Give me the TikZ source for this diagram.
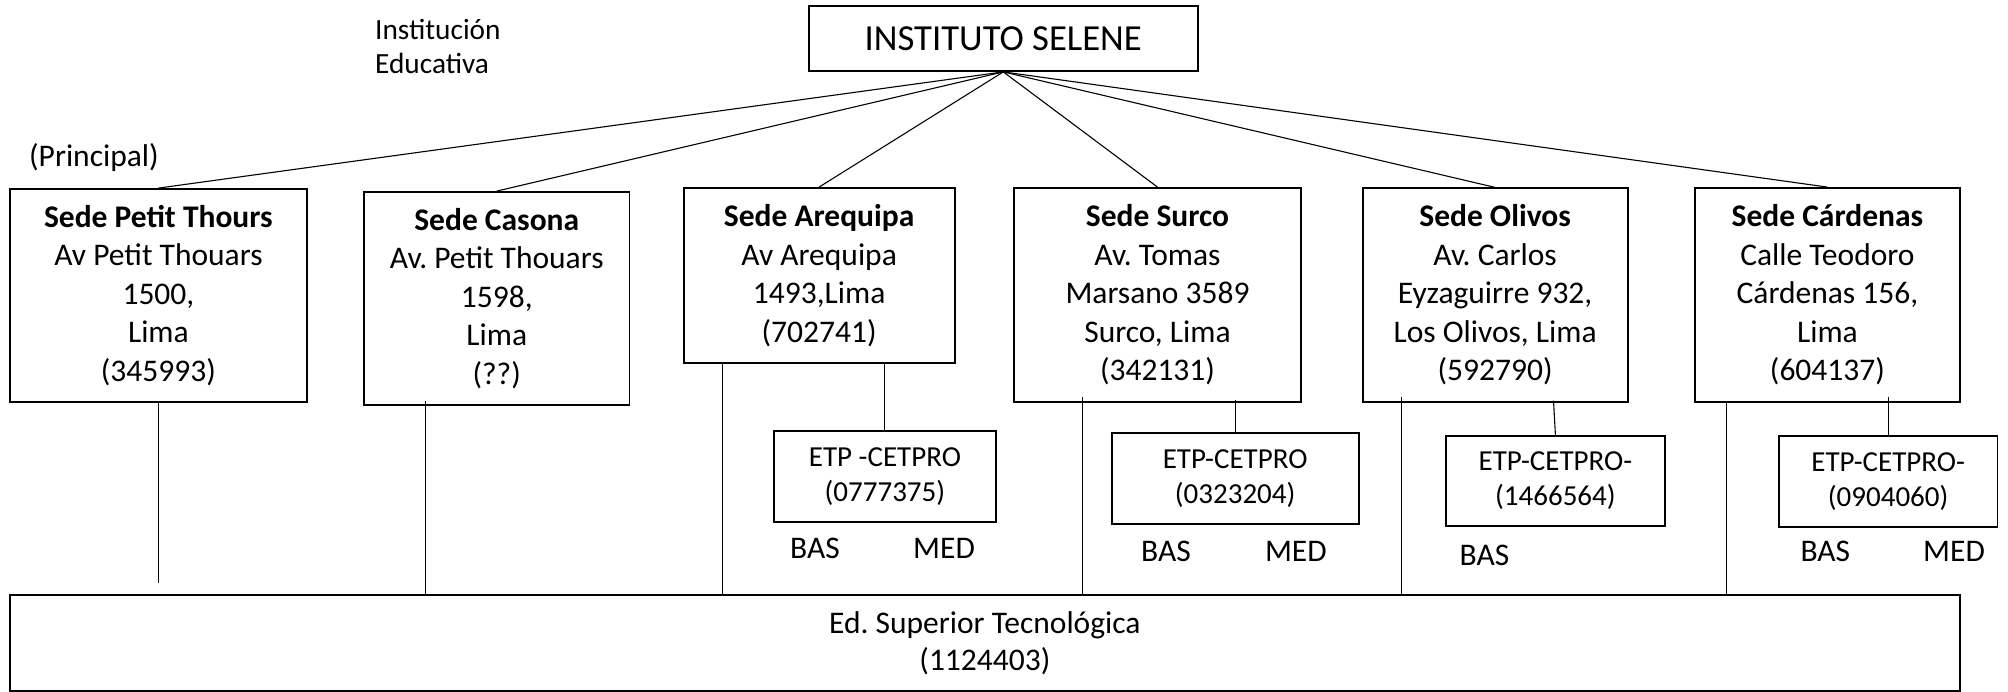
\documentclass[tikz,border=0pt]{standalone}
\usepackage{fontspec}
\setmainfont{Carlito}
\frenchspacing
\newcommand{\fmainsz}{\fontsize{31.5bp}{38.5bp}\selectfont}
\newcommand{\fetpsz}{\fontsize{29bp}{35bp}\selectfont}
\newcommand{\flabsz}{\fontsize{29.3bp}{34bp}\selectfont}
\newcommand{\ftopsz}{\fontsize{36.7bp}{40bp}\selectfont}
\newcommand{\fbotsz}{\fontsize{31.5bp}{37bp}\selectfont}
\begin{document}
\begin{tikzpicture}[x=1bp,y=-1bp,
  box/.style={draw=black, line width=1.8bp, inner sep=0pt, align=center},
  sedebox/.style={box, font=\fmainsz},
  etpbox/.style={box, font=\fetpsz},
  conn/.style={draw=black, line width=1.1bp},
  lab/.style={inner sep=0pt, anchor=base west, font=\fmainsz},
  toplab/.style={inner sep=0pt, anchor=base west, font=\flabsz}]
\useasboundingbox (0,0) rectangle (2008,692);
\fill[white] (0,0) rectangle (2008,692);

% top
\node[box, font=\ftopsz, minimum width=389.3bp, minimum height=65bp] (inst) at (1003.3,38.5) {INSTITUTO SELENE};
\node[toplab] (ie1) at (375,39.3) {Institución};
\node[toplab] (ie2) at (375,73.3) {Educativa};
\node[lab] (princ) at (29,166.7) {(Principal)};

% sedes
\node[sedebox, minimum width=297.2bp, minimum height=213bp] (b1) at (158.4,295.5)
  {\textbf{Sede Petit Thours}\\Av Petit Thouars\\1500,\\Lima\\(345993)};
\node[sedebox, minimum width=265.5bp, minimum height=213bp] (b2) at (496.75,298.5)
  {\textbf{Sede Casona}\\Av. Petit Thouars\\1598,\\Lima\\(??)};
\node[sedebox, minimum width=271bp, minimum height=175bp] (b3) at (819.1,275.5)
  {\textbf{Sede Arequipa}\\Av Arequipa\\1493,Lima\\(702741)};
\node[sedebox, minimum width=287bp, minimum height=214bp] (b4) at (1157.5,295)
  {\textbf{Sede Surco}\\Av. Tomas\\Marsano 3589\\Surco, Lima\\(342131)};
\node[sedebox, minimum width=265bp, minimum height=213.4bp] (b5) at (1495.1,295)
  {\textbf{Sede Olivos}\\Av. Carlos\\Eyzaguirre 932,\\Los Olivos, Lima\\(592790)};
\node[sedebox, minimum width=265bp, minimum height=214bp] (b6) at (1827.4,295)
  {\textbf{Sede Cárdenas}\\Calle Teodoro\\Cárdenas 156,\\Lima\\(604137)};

% ETP boxes
\node[etpbox, minimum width=222.25bp, minimum height=90.7bp] (e3) at (884.9,476.35) {ETP -CETPRO\\(0777375)};
\node[etpbox, minimum width=246.9bp, minimum height=91.3bp] (e4) at (1235.15,478.35) {ETP-CETPRO\\(0323204)};
\node[etpbox, minimum width=219.4bp, minimum height=90.3bp] (e5) at (1555.4,480.85) {ETP-CETPRO-\\(1466564)};
\node[etpbox, minimum width=218.5bp, minimum height=90.7bp] (e6) at (1888.15,481.35) {ETP-CETPRO-\\(0904060)};

% bottom
\node[box, font=\fbotsz, minimum width=1950bp, minimum height=96bp] (bot) at (984.9,642.8)
  {Ed. Superior Tecnológica\\(1124403)};

% BAS / MED
\node[lab] (bas3) at (790,558.3) {BAS};
\node[lab] (med3) at (913,558.3) {MED};
\node[lab] (bas4) at (1141,561) {BAS};
\node[lab] (med4) at (1264.8,561) {MED};
\node[lab] (bas5) at (1459.5,565) {BAS};
\node[lab] (bas6) at (1800.4,561) {BAS};
\node[lab] (med6) at (1923,561) {MED};

% connectors from top
\foreach \b in {b1,b2,b3,b4,b5,b6}{\draw[conn] (inst.south) -- (\b.north);}

% free ends
\coordinate (c1s) at (158.5,402);
\coordinate (c1e) at (158.5,582.7);
\coordinate (c2s) at (425.5,401);
\coordinate (c3s) at (722.5,363);
\coordinate (c4s) at (1082.5,397);
\coordinate (c4r) at (1235.5,400);
\coordinate (c5s) at (1401.5,396.7);
\coordinate (c5r) at (1553.5,400.7);
\coordinate (c6s) at (1726.5,401.7);
\coordinate (c6r) at (1888.5,396.7);

\draw[conn] (c1s) -- (c1e);
\draw[conn] (c2s) -- (c2s |- bot.north);
\draw[conn] (c3s) -- (c3s |- bot.north);
\draw[conn] (e3.north |- b3.south) -- (e3.north);
\draw[conn] (c4s) -- (c4s |- bot.north);
\draw[conn] (c4r) -- (c4r |- e4.north);
\draw[conn] (c5s) -- (c5s |- bot.north);
\draw[conn] (c5r) -- (e5.north);
\draw[conn] (c6s) -- (c6s |- bot.north);
\draw[conn] (c6r) -- (c6r |- e6.north);
\end{tikzpicture}
\end{document}
